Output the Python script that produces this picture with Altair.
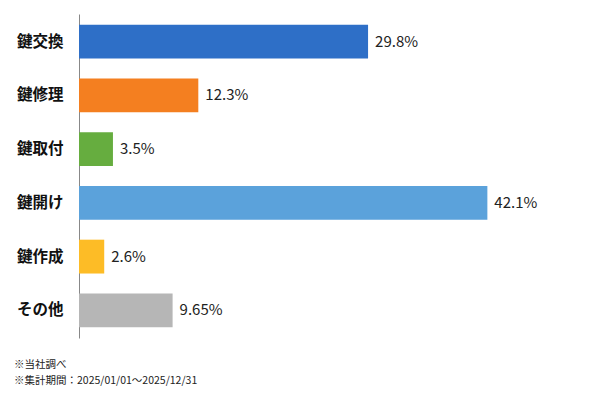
import altair as alt
import pandas as pd

categories = ["鍵交換", "鍵修理", "鍵取付", "鍵開け", "鍵作成", "その他"]
values = [29.8, 12.3, 3.5, 42.1, 2.6, 9.65]
labels = ["29.8%", "12.3%", "3.5%", "42.1%", "2.6%", "9.65%"]
colors = ["#2e6fc7", "#f47f20", "#66ad3f", "#5ba2db", "#fdbc26", "#b6b6b6"]
notes = ["※当社調べ", "※集計期間：2025/01/01～2025/12/31"]

df = pd.DataFrame({"cat": categories, "val": values, "label": labels, "color": colors})
FONT = "Noto Sans CJK JP"

base = alt.Chart(df).encode(
    y=alt.Y("cat:N", sort=categories, scale=alt.Scale(paddingInner=0.37, paddingOuter=0.2),
            axis=alt.Axis(title=None, ticks=False, labelFont=FONT, labelFontSize=15.5,
                          labelFontWeight="bold", labelColor="#111", labelPadding=16,
                          domainColor="#888", domainWidth=1)),
)
bars = base.mark_bar().encode(
    x=alt.X("val:Q", scale=alt.Scale(domain=[0, 50]), axis=None),
    color=alt.Color("color:N", scale=None),
)
text = base.mark_text(align="left", dx=7, font=FONT, fontSize=15, color="#222").encode(
    x="val:Q", text="label:N"
)

def note(t, y):
    return alt.Chart(pd.DataFrame({"t": [t]})).mark_text(
        align="left", baseline="middle", font=FONT, fontSize=10.5, color="#222"
    ).encode(text="t:N", x=alt.value(-65), y=alt.value(y))

chart = alt.layer(bars, text, note(notes[0], 351), note(notes[1], 367)).properties(
    width=485, height=324,
    autosize=alt.AutoSizeParams(type="none"),
    padding={"left": 79, "top": 14, "right": 36, "bottom": 62},
).configure(background="white").configure_view(stroke=None)

chart.save("out.html", embed_options={"renderer": "svg", "actions": False})
